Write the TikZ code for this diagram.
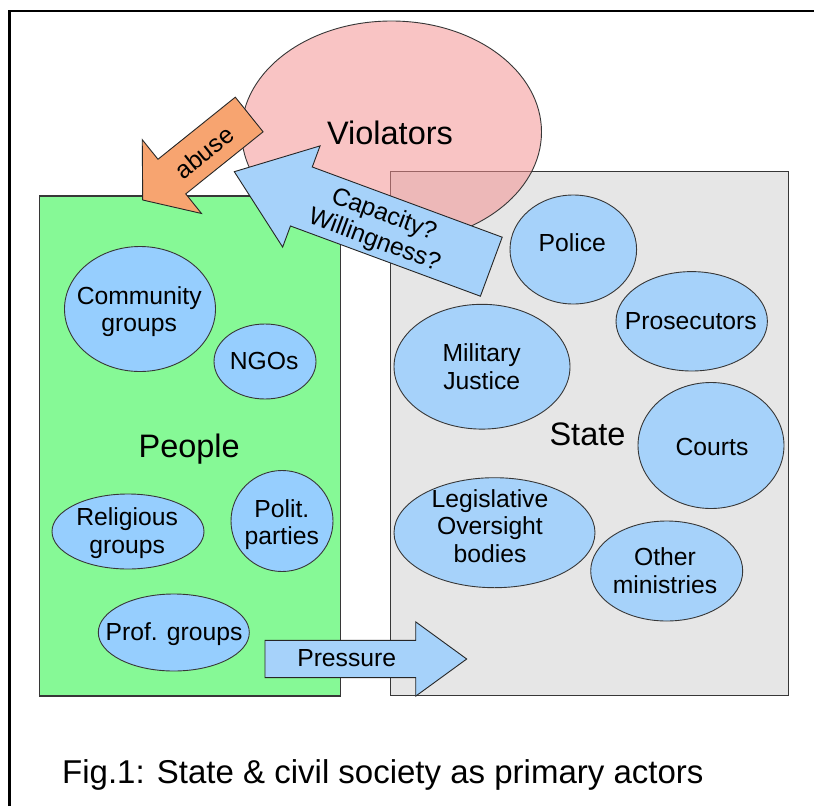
\documentclass[tikz,border=0pt]{standalone}
\usepackage{fontspec}
\setmainfont{Liberation Sans}
\usetikzlibrary{calc,shapes.geometric}

\definecolor{peoplegreen}{RGB}{134,249,150}
\definecolor{stategrey}{RGB}{230,230,230}
\definecolor{violpink}{RGB}{245,142,142}
\definecolor{abuseorange}{RGB}{247,164,112}
\definecolor{blobblue}{RGB}{150,206,254}
\definecolor{arrowblue}{RGB}{166,210,250}
\definecolor{edgegrey}{RGB}{55,55,55}

% Block arrow: #1 style, #2 tail (centre of the back edge), #3 tip,
% #4 half shaft width, #5 half head width, #6 head length
\newcommand\blockarrow[6]{%
  \coordinate (#2-base) at ($(#3)!#6!(#2)$);
  \draw[#1] ($(#2)!#4!90:(#3)$) -- ($(#2-base)!#4!90:(#3)$)
    -- ($(#2-base)!#5!90:(#3)$) -- (#3)
    -- ($(#2-base)!#5!-90:(#3)$) -- ($(#2-base)!#4!-90:(#3)$)
    -- ($(#2)!#4!-90:(#3)$) -- cycle;
}

\tikzset{
  panel/.style={draw=edgegrey, line width=1.1pt},
  blob/.style={ellipse, draw=edgegrey, line width=0.9pt, inner sep=0pt},
  lbl/.style={font=\fontsize{24.7}{27.5}\selectfont, align=center, inner sep=0pt},
  big/.style={font=\fontsize{32.5}{39}\selectfont, inner sep=0pt},
  blockshape/.style={draw=black!85, line width=0.9pt, line join=miter},
}

\begin{document}
\begin{tikzpicture}[x=1pt, y=-1pt]
  % page and frame
  \fill[white] (0,0) rectangle (814,806);
  \useasboundingbox (0,0) rectangle (814,806);
  \draw[line width=2.4pt, line join=miter] (9.5,806) -- (9.5,11) -- (814,11);

  % the two arenas
  \draw[panel, fill=stategrey] (390.3,171.7) rectangle (788.3,695.5);
  \draw[panel, fill=peoplegreen] (39.5,196) rectangle (340.7,696);

  % violators
  \node[blob, fill=violpink, fill opacity=0.52, minimum width=300pt, minimum height=222pt] (violators) at (391.5,132) {};
  \node[big, anchor=base] (violators-t) at (390,144.5) {Violators};

  % civil society actors
  \node[blob, fill=blobblue, minimum width=151pt, minimum height=125pt] (community) at (140,309) {};
  \node[blob, fill=blobblue, minimum width=102pt, minimum height=75pt] (ngos) at (265,361.5) {};
  \node[blob, fill=blobblue, minimum width=152pt, minimum height=75pt] (religious) at (128,531.5) {};
  \node[blob, fill=blobblue, minimum width=102pt, minimum height=101pt] (polit) at (282,521) {};
  \node[blob, fill=blobblue, minimum width=151pt, minimum height=77pt] (prof) at (173.8,632.5) {};

  \node[lbl] (community-t) at (139.2,311.7) {Community\\groups};
  \node[lbl, anchor=base] (ngos-t) at (264.2,369) {NGOs};
  \node[big, anchor=base] (people-t) at (189.2,457.5) {People};
  \node[lbl] (religious-t) at (127.2,533.3) {Religious\\groups};
  \node[lbl] (polit-t) at (281.8,524.7) {Polit.\\parties};
  \node[lbl, anchor=base] (prof-t) at (174,640) {Prof. groups};

  % state actors
  \node[blob, fill=arrowblue, minimum width=126.6pt, minimum height=109pt] (police) at (573.3,249.5) {};
  \node[blob, fill=arrowblue, minimum width=151.4pt, minimum height=99.4pt] (prosecutors) at (691.7,321.3) {};
  \node[blob, fill=arrowblue, minimum width=176pt, minimum height=124.8pt] (military) at (482,366.7) {};
  \node[blob, fill=arrowblue, minimum width=146pt, minimum height=126pt] (courts) at (711,445.5) {};
  \node[blob, fill=arrowblue, minimum width=201pt, minimum height=110pt] (legis) at (494.5,532.7) {};
  \node[blob, fill=arrowblue, minimum width=152pt, minimum height=100pt] (other) at (666.7,571) {};

  \node[lbl, anchor=base] (police-t) at (572.3,251.7) {Police};
  \node[lbl, anchor=base] (prosecutors-t) at (690.8,329.3) {Prosecutors};
  \node[lbl] (military-t) at (481.7,366.7) {Military\\Justice};
  \node[big, anchor=base] (state-t) at (587.5,445) {State};
  \node[lbl, anchor=base] (courts-t) at (712,455) {Courts};
  \node[lbl] (legis-t) at (490,525.8) {Legislative\\Oversight\\bodies};
  \node[lbl] (other-t) at (665,570.5) {Other\\ministries};

  % block arrows
  \coordinate (abuse) at (249.2,114.5);
  \coordinate (abuse-tip) at (142.7,200);
  \blockarrow{blockshape, fill=abuseorange}{abuse}{abuse-tip}{22.2pt}{47.3pt}{37.4pt}
  \node[lbl, rotate=38.8] (abuse-t) at (204,152.3) {abuse};

  \coordinate (capacity) at (491.3,266.7);
  \coordinate (capacity-tip) at (234.3,171.7);
  \blockarrow{blockshape, fill=arrowblue}{capacity}{capacity-tip}{31.45pt}{53.95pt}{71.5pt}
  \node[lbl, rotate=-20.3] (capacity-t) at (379,228) {Capacity?\\Willingness?};

  \coordinate (pressure) at (265,659);
  \coordinate (pressure-tip) at (466.7,659);
  \blockarrow{blockshape, fill=arrowblue}{pressure}{pressure-tip}{18.65pt}{37.15pt}{51pt}
  \node[lbl, anchor=base] (pressure-t) at (346.7,666) {Pressure};

  % caption
  \node[font=\fontsize{33}{40}\selectfont, anchor=base west, inner sep=0pt] (caption) at (62,783) {Fig.1: State \& civil society as primary actors};
\end{tikzpicture}
\end{document}
